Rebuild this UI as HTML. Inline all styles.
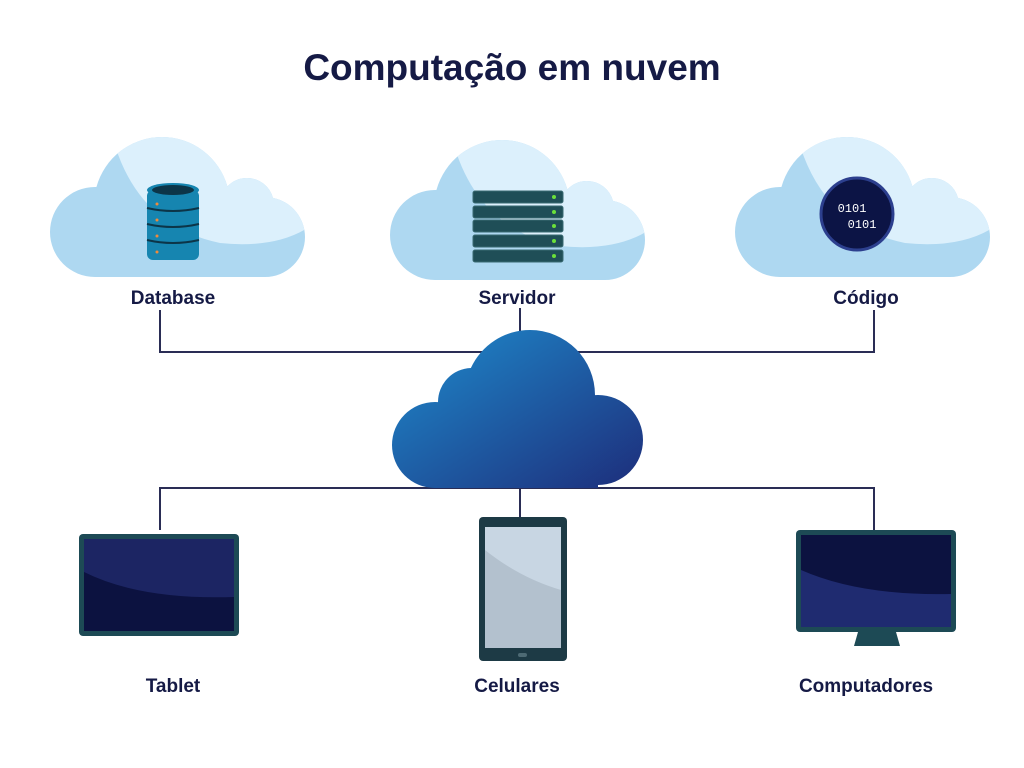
<!DOCTYPE html>
<html><head><meta charset="utf-8"><style>
body{margin:0;background:#fff;}
svg{display:block}
text{font-family:"Liberation Sans",sans-serif;font-weight:bold;fill:#151a45;text-anchor:middle}
</style></head><body>
<svg width="1024" height="768" viewBox="0 0 1024 768" xmlns="http://www.w3.org/2000/svg">
<defs>
<clipPath id="cc">
<circle cx="45" cy="95" r="45"/><circle cx="112" cy="68" r="68"/><circle cx="197" cy="68" r="27"/><circle cx="215" cy="100" r="40"/><rect x="45" y="80" width="170" height="60"/>
</clipPath>
<g id="cloud">
<rect x="0" y="0" width="260" height="140" fill="#aed8f1" clip-path="url(#cc)"/>
<path clip-path="url(#cc)" d="M60,-10 Q82,88 170,106 Q228,112 262,88 L262,-10 Z" fill="#dcf0fc"/>
</g>
<linearGradient id="bg" x1="0" y1="0" x2="1" y2="1"><stop offset="0" stop-color="#1f8fd0"/><stop offset="1" stop-color="#1d2a78"/></linearGradient>
</defs>
<text x="512" y="80" style="font-size:37px">Computação em nuvem</text>

<g stroke="#2a2d55" stroke-width="2" fill="none">
<path d="M160,310V352H874V310M520,308V352"/>
<path d="M160,530V488H874V530M520,488V518"/>
</g>

<use href="#cloud" x="50" y="137"/>
<use href="#cloud" x="390" y="140"/>
<use href="#cloud" x="735" y="137"/>

<!-- database -->
<g>
<rect x="147" y="190" width="52" height="70" rx="6" fill="#1685b0"/>
<ellipse cx="173" cy="190" rx="26" ry="7" fill="#1685b0"/>
<ellipse cx="173" cy="190" rx="21" ry="5" fill="#0c3548"/>
<g stroke="#0c3548" stroke-width="2" fill="none">
<path d="M147,208 Q173,214 199,208M147,224 Q173,230 199,224M147,240 Q173,246 199,240"/></g>
<g fill="#f08a3a"><circle cx="157" cy="204" r="1.5"/><circle cx="157" cy="220" r="1.5"/><circle cx="157" cy="236" r="1.5"/><circle cx="157" cy="252" r="1.5"/></g>
</g>
<!-- server -->
<g fill="#1f4e57" stroke="#3a6a72" stroke-width="1">
<rect x="473" y="191" width="90" height="12" rx="2"/><rect x="473" y="206" width="90" height="12" rx="2"/><rect x="473" y="220" width="90" height="12" rx="2"/><rect x="473" y="235" width="90" height="12" rx="2"/><rect x="473" y="250" width="90" height="12" rx="2"/>
</g>
<g fill="#6be03a"><circle cx="554" cy="197" r="2"/><circle cx="554" cy="212" r="2"/><circle cx="554" cy="226" r="2"/><circle cx="554" cy="241" r="2"/><circle cx="554" cy="256" r="2"/></g>
<!-- code -->
<circle cx="857" cy="214" r="36" fill="#0c1445" stroke="#2c3f8e" stroke-width="3"/>
<text x="852" y="212" style="font-size:12px;font-weight:normal;fill:#fff;font-family:'Liberation Mono',monospace">0101</text>
<text x="862" y="228" style="font-size:12px;font-weight:normal;fill:#fff;font-family:'Liberation Mono',monospace">0101</text>

<text x="173" y="304" style="font-size:19px">Database</text>
<text x="517" y="304" style="font-size:19px">Servidor</text>
<text x="866" y="304" style="font-size:19px">Código</text>

<!-- main cloud -->
<clipPath id="mc">
<circle cx="435" cy="445" r="43"/><circle cx="472" cy="402" r="34"/><circle cx="530" cy="395" r="65"/><circle cx="598" cy="440" r="45"/><rect x="435" y="420" width="163" height="68"/>
</clipPath>
<rect x="385" y="325" width="265" height="170" fill="url(#bg)" clip-path="url(#mc)"/>

<!-- tablet -->
<rect x="79" y="534" width="160" height="102" rx="4" fill="#1d4a55"/>
<rect x="84" y="539" width="150" height="92" fill="#0c1240"/>
<path d="M84,539H234V597Q140,600 84,572Z" fill="#1c2563"/>
<!-- phone -->
<rect x="479" y="517" width="88" height="144" rx="4" fill="#1d3a45"/>
<rect x="485" y="527" width="76" height="121" fill="#b3c1ce"/>
<path d="M485,527H561V590Q520,578 485,550Z" fill="#c8d6e3"/>
<rect x="518" y="653" width="9" height="4" rx="2" fill="#4d6a74"/>
<!-- monitor -->
<path d="M858,632H896L900,646H854Z" fill="#1d4a55"/>
<rect x="796" y="530" width="160" height="102" rx="4" fill="#1d4a55"/>
<rect x="801" y="535" width="150" height="92" fill="#1f2b70"/>
<path d="M801,535H951V594Q860,596 801,570Z" fill="#0c1240"/>

<text x="173" y="692" style="font-size:19px">Tablet</text>
<text x="517" y="692" style="font-size:19px">Celulares</text>
<text x="866" y="692" style="font-size:19px">Computadores</text>
</svg>
</body></html>
